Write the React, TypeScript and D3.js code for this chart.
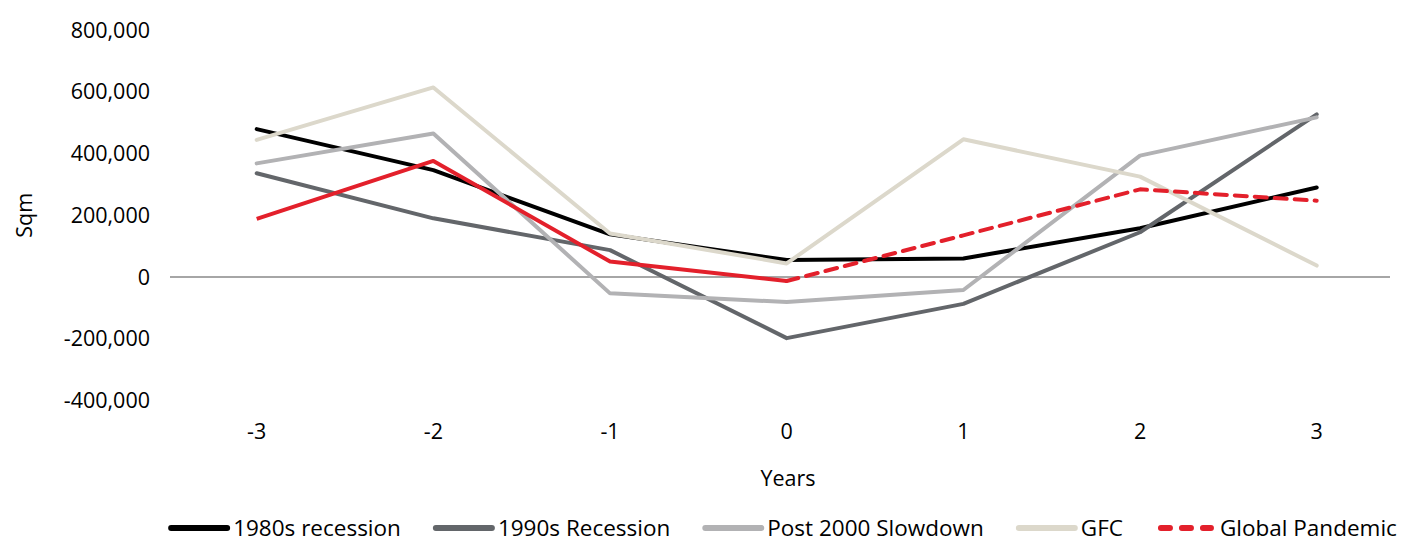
import React, { useEffect, useRef } from "react";
import * as d3 from "d3";

// Years relative to the start of each downturn
const categories = ["-3", "-2", "-1", "0", "1", "2", "3"];

// Net absorption (sqm) per downturn
const recession1980s = [479000, 346000, 138000, 55000, 60000, 158000, 290000];
const recession1990s = [336000, 190000, 87000, -198000, -87000, 145000, 527000];
const slowdown2000 = [368000, 465000, -53000, -81000, -42000, 393000, 517000];
const gfc = [444000, 614000, 141000, 44000, 446000, 325000, 37000];
const pandemic = [188000, 376000, 50000, -13000, 135000, 284000, 247000];

const yTicks = [-400000, -200000, 0, 200000, 400000, 600000, 800000];

const seriesNames = [
  "1980s recession",
  "1990s Recession",
  "Post 2000 Slowdown",
  "GFC",
  "Global Pandemic",
];

const W = 1405;
const H = 543;
const FONT = "'Open Sans', Lato, sans-serif";

export default function App() {
  const ref = useRef<SVGSVGElement | null>(null);

  useEffect(() => {
    const svg = d3.select(ref.current);
    svg.selectAll("*").remove();

    const x = d3.scalePoint<string>().domain(categories).range([256.7, 1316.7]);
    const y = d3.scaleLinear().domain([-400000, 800000]).range([400.5, 30]);
    const plotLeft = 170;
    const plotRight = 1390;

    const fmt = (d: number) => d3.format(",")(d).replace("\u2212", "-");

    // y tick labels
    svg
      .append("g")
      .selectAll("text")
      .data(yTicks)
      .join("text")
      .attr("x", 150)
      .attr("y", (d) => y(d))
      .attr("dy", "0.35em")
      .attr("text-anchor", "end")
      .attr("font-family", FONT)
      .attr("font-size", 21.5)
      .attr("fill", "#000")
      .text((d) => fmt(d));

    // zero baseline
    svg
      .append("line")
      .attr("x1", plotLeft)
      .attr("x2", plotRight)
      .attr("y1", y(0))
      .attr("y2", y(0))
      .attr("stroke", "#888")
      .attr("stroke-width", 1.3);

    // x tick labels
    svg
      .append("g")
      .selectAll("text")
      .data(categories)
      .join("text")
      .attr("x", (d) => x(d)!)
      .attr("y", 431)
      .attr("dy", "0.35em")
      .attr("text-anchor", "middle")
      .attr("font-family", FONT)
      .attr("font-size", 21.5)
      .attr("fill", "#000")
      .text((d) => d);

    // axis titles
    svg
      .append("text")
      .attr("transform", `translate(24,${y(200000)}) rotate(-90)`)
      .attr("text-anchor", "middle")
      .attr("dy", "0.35em")
      .attr("font-family", FONT)
      .attr("font-size", 21.5)
      .text("Sqm");
    svg
      .append("text")
      .attr("x", 788)
      .attr("y", 478)
      .attr("dy", "0.35em")
      .attr("text-anchor", "middle")
      .attr("font-family", FONT)
      .attr("font-size", 21.5)
      .text("Years");

    const line = d3
      .line<number>()
      .x((_, i) => x(categories[i])!)
      .y((d) => y(d));

    const solid = [
      { values: recession1980s, color: "#000000" },
      { values: recession1990s, color: "#63666a" },
      { values: slowdown2000, color: "#b2b2b4" },
      { values: gfc, color: "#dcd8cb" },
    ];
    solid.forEach((s) => {
      svg
        .append("path")
        .attr("d", line(s.values)!)
        .attr("fill", "none")
        .attr("stroke", s.color)
        .attr("stroke-width", 4)
        .attr("stroke-linejoin", "round")
        .attr("stroke-linecap", "round");
    });

    // pandemic: observed part solid, projected part dashed
    const red = "#e3202b";
    const lineIdx = d3
      .line<[number, number]>()
      .x((d) => x(categories[d[0]])!)
      .y((d) => y(d[1]));
    const pts = pandemic.map((v, i) => [i, v] as [number, number]);
    svg
      .append("path")
      .attr("d", lineIdx(pts.slice(0, 4))!)
      .attr("fill", "none")
      .attr("stroke", red)
      .attr("stroke-width", 4)
      .attr("stroke-linejoin", "round");
    svg
      .append("path")
      .attr("d", lineIdx(pts.slice(3))!)
      .attr("fill", "none")
      .attr("stroke", red)
      .attr("stroke-width", 4)
      .attr("stroke-dasharray", "12,8")
      .attr("stroke-linecap", "round")
      .attr("stroke-linejoin", "round");

    // legend
    const legendColors = ["#000000", "#63666a", "#b2b2b4", "#dcd8cb", red];
    const lg = svg.append("g");
    let cx = 0;
    const swatch = 56;
    const gap = 35;
    seriesNames.forEach((name, i) => {
      const g = lg.append("g").attr("transform", `translate(${cx},0)`);
      g.append("line")
        .attr("x1", i === 4 ? 3 : 0)
        .attr("x2", i === 4 ? swatch - 3 : swatch)
        .attr("y1", 0)
        .attr("y2", 0)
        .attr("stroke", legendColors[i])
        .attr("stroke-width", 6)
        .attr("stroke-linecap", "round")
        .attr("stroke-dasharray", i === 4 ? "9,12" : null);
      const t = g
        .append("text")
        .attr("x", swatch + 6)
        .attr("dy", "0.35em")
        .attr("font-family", FONT)
        .attr("font-size", 22.5)
        .text(name);
      const w = (t.node() as SVGTextElement).getComputedTextLength();
      cx += swatch + 6 + w + gap;
    });
    const total = cx - gap;
    lg.attr("transform", `translate(${784 - total / 2},528)`);
  }, []);

  return (
    <svg
      ref={ref}
      width={W}
      height={H}
      style={{ position: "absolute", left: 0, top: 0, background: "#fff" }}
    />
  );
}
